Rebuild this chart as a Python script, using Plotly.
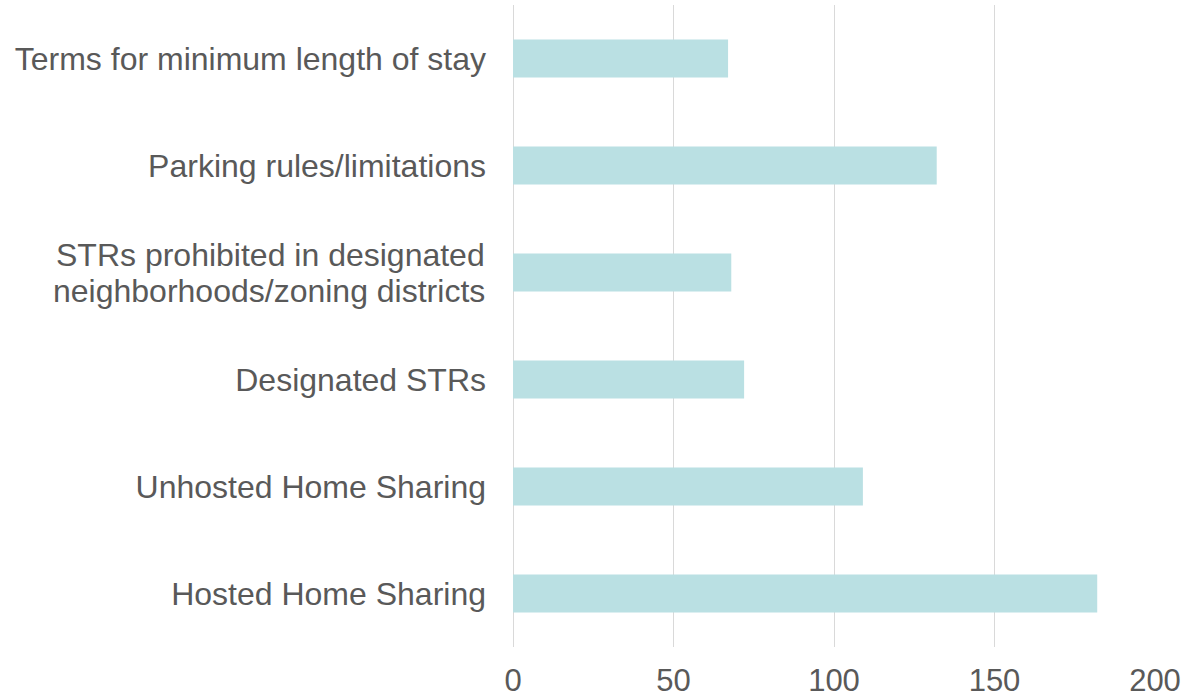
import plotly.graph_objects as go

categories = [
    "Terms for minimum length of stay",
    "Parking rules/limitations",
    "STRs prohibited in designated|neighborhoods/zoning districts",
    "Designated STRs",
    "Unhosted Home Sharing",
    "Hosted Home Sharing",
]
values = [67, 132, 68, 72, 109, 182]
x_ticks = [0, 50, 100, 150, 200]

FONT = "Liberation Sans, Arial, sans-serif"
TXT = "#595959"
LABEL_SIZE = 32
LINE_GAP = 36

tick_text = [c if "|" not in c else "" for c in categories]

fig = go.Figure(go.Bar(
    x=values, y=categories, orientation="h",
    marker=dict(color="#bae0e3", line=dict(width=0)),
))

# multi-line labels drawn as separate lines for tighter line spacing
for c in categories:
    if "|" in c:
        lines = c.split("|")
        n = len(lines)
        for i, line in enumerate(lines):
            fig.add_annotation(
                x=0, xref="paper", y=c, yref="y",
                text=line, showarrow=False,
                xanchor="right", yanchor="middle",
                xshift=-26, yshift=((n - 1) / 2 - i) * LINE_GAP,
                font=dict(family=FONT, size=LABEL_SIZE, color=TXT),
            )

fig.update_layout(
    width=1184, height=698,
    margin=dict(l=513, r=29, t=5, b=51, autoexpand=False),
    plot_bgcolor="white", paper_bgcolor="white",
    bargap=0.645,
    showlegend=False,
    font=dict(family=FONT, color=TXT),
)
fig.update_xaxes(
    range=[0, 200], tickvals=x_ticks,
    showgrid=True, gridcolor="#d9d9d9", gridwidth=1.3,
    zeroline=True, zerolinecolor="#d9d9d9", zerolinewidth=1.3,
    showline=False,
    tickfont=dict(family=FONT, size=31, color=TXT),
    ticklabelstandoff=12,
    automargin=False,
)
fig.update_yaxes(
    autorange="reversed",
    tickvals=categories, ticktext=tick_text,
    showgrid=False, showline=False, zeroline=False,
    tickfont=dict(family=FONT, size=LABEL_SIZE, color=TXT),
    ticklabelstandoff=26,
    automargin=False,
)

fig.write_html("out.html")
